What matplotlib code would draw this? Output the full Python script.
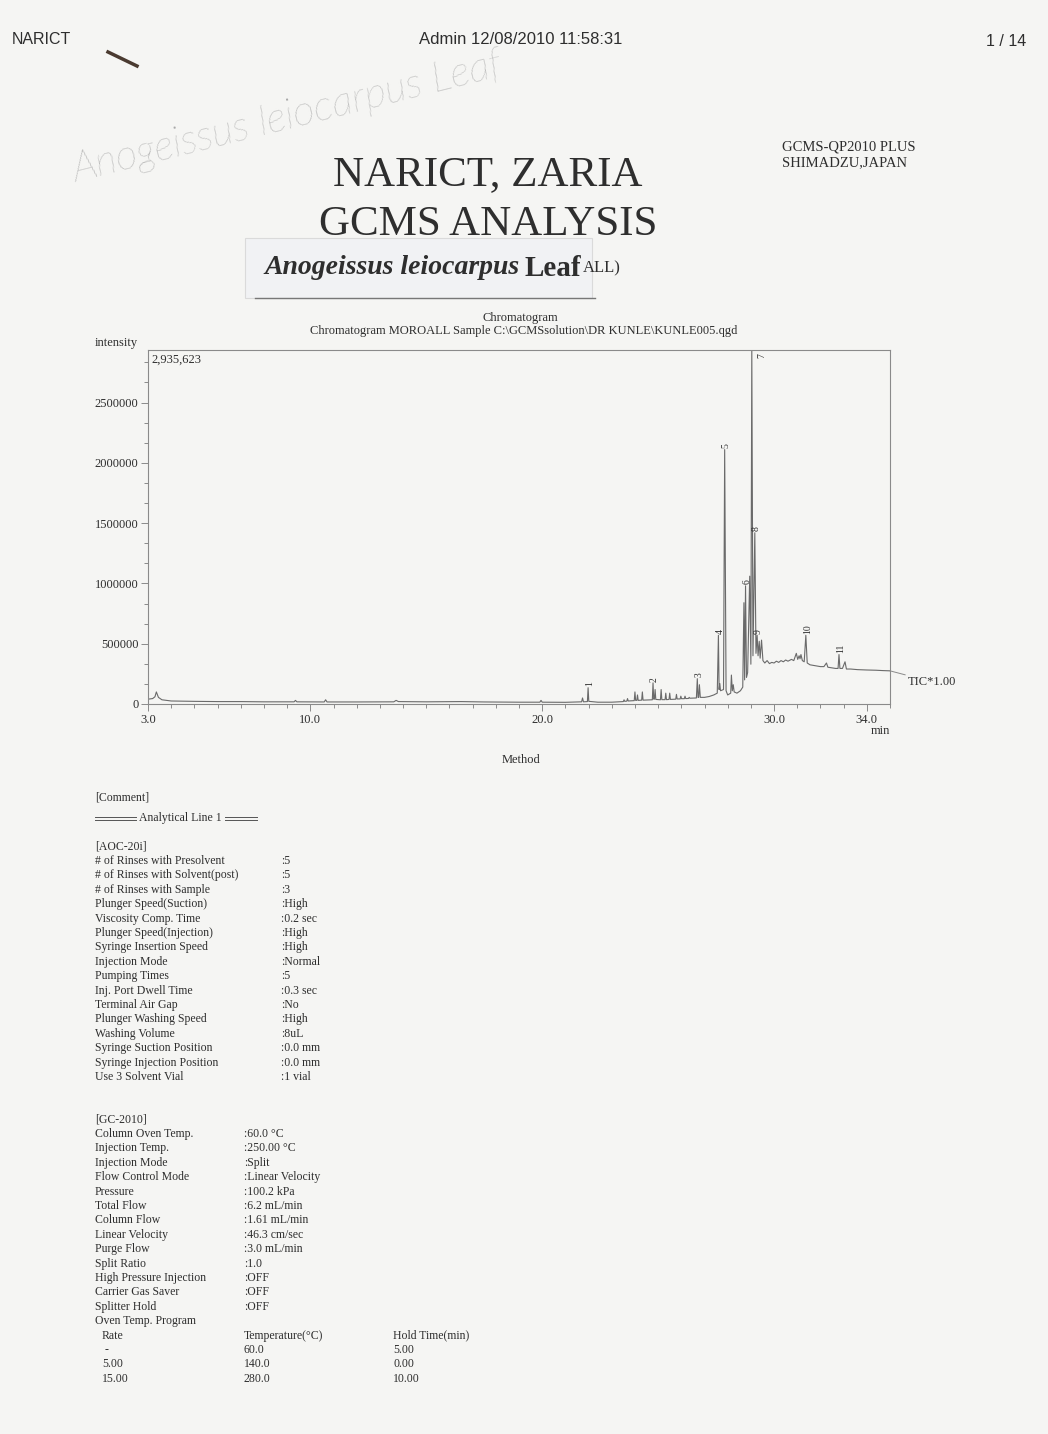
import matplotlib
matplotlib.use('Agg')
import matplotlib.pyplot as plt
from matplotlib.ticker import MultipleLocator, AutoMinorLocator, FuncFormatter
from matplotlib.patches import Rectangle
from matplotlib.lines import Line2D

W, H = 1048, 1434
INK = '#2e2e2e'
TRACE = '#6a6a6a'
PAPER = '#f5f5f3'

plt.rcParams['font.family'] = ['Liberation Serif', 'DejaVu Serif']

# TIC trace (retention time in min, intensity)
tic_time = [3.00, 3.20, 3.30, 3.36, 3.45, 3.60, 4.00, 5.00, 6.00, 7.00, 8.00,
            9.30, 9.36, 9.42, 10.60, 10.66, 10.72, 12.00, 13.60, 13.70, 13.80,
            15.00, 16.50, 17.50, 19.00, 19.90, 19.95, 20.00, 21.00,
            21.70, 21.74, 21.78, 21.95, 21.98, 22.01, 22.40, 23.00,
            23.50, 23.53, 23.56, 23.65, 23.68, 23.71, 23.97, 24.00, 24.03,
            24.08, 24.11, 24.14, 24.29, 24.32, 24.35, 24.75, 24.78, 24.81,
            24.84, 24.87, 24.90, 25.10, 25.13, 25.16, 25.30, 25.33, 25.36,
            25.47, 25.50, 25.53, 25.76, 25.79, 25.82, 25.95, 25.98, 26.01,
            26.13, 26.16, 26.19, 26.31, 26.34, 26.37, 26.65, 26.69, 26.72,
            26.75, 26.78, 26.82, 27.00, 27.20, 27.40, 27.55, 27.60, 27.63,
            27.66, 27.69, 27.82, 27.87, 27.93, 28.00, 28.13, 28.16, 28.20,
            28.24, 28.28, 28.40, 28.55, 28.65, 28.70, 28.73, 28.77, 28.81,
            28.86, 28.95, 29.00, 29.04, 29.09, 29.17, 29.22, 29.27, 29.31,
            29.36, 29.40, 29.46, 29.52, 29.60, 29.70, 29.80, 29.90, 30.00,
            30.10, 30.20, 30.30, 30.40, 30.50, 30.60, 30.75, 30.85, 30.96,
            31.02, 31.08, 31.12, 31.16, 31.22, 31.30, 31.37, 31.43, 31.55,
            31.70, 31.85, 32.00, 32.15, 32.26, 32.32, 32.50, 32.65, 32.76,
            32.80, 32.84, 32.95, 33.06, 33.12, 33.30, 33.60, 34.00, 34.40,
            34.70, 35.00]
tic_value = [40000, 45000, 60000, 100000, 55000, 35000, 25000, 22000, 20000,
             20000, 18000, 18000, 30000, 18000, 17000, 35000, 17000, 17000,
             18000, 30000, 20000, 18000, 20000, 17000, 15000, 15000, 30000,
             15000, 14000, 18000, 50000, 18000, 20000, 135000, 22000, 15000,
             15000, 20000, 35000, 22000, 24000, 45000, 25000, 28000, 100000,
             30000, 30000, 75000, 30000, 32000, 100000, 32000, 35000, 175000,
             40000, 40000, 120000, 38000, 35000, 120000, 36000, 36000, 90000,
             36000, 38000, 90000, 38000, 40000, 80000, 42000, 42000, 65000,
             44000, 44000, 65000, 45000, 46000, 55000, 48000, 50000, 210000,
             55000, 55000, 160000, 55000, 55000, 62000, 75000, 90000, 570000,
             120000, 170000, 110000, 120000, 2110000, 110000, 75000, 90000,
             240000, 110000, 160000, 100000, 90000, 110000, 140000, 840000,
             200000, 980000, 220000, 260000, 1060000, 330000, 2935623, 400000,
             1420000, 420000, 570000, 400000, 520000, 380000, 530000, 360000,
             340000, 360000, 335000, 345000, 340000, 355000, 345000, 360000,
             350000, 365000, 355000, 370000, 360000, 420000, 370000, 400000,
             375000, 410000, 360000, 350000, 570000, 340000, 325000, 320000,
             315000, 310000, 310000, 340000, 305000, 300000, 295000, 295000,
             410000, 295000, 295000, 350000, 290000, 290000, 285000, 282000,
             280000, 277000, 275000]

peak_no = ['1', '2', '3', '4', '5', '6', '7', '8', '9', '10', '11']
peak_time = [21.98, 24.78, 26.69, 27.60, 27.87, 28.77, 29.04, 29.17, 29.27, 31.37, 32.80]
peak_height = [135000, 175000, 210000, 570000, 2110000, 980000, 2935623,
               1420000, 570000, 570000, 410000]

y_max = 2935623
x_major = [3.0, 10.0, 20.0, 30.0, 34.0]

aoc_labels = ['# of Rinses with Presolvent', '# of Rinses with Solvent(post)',
              '# of Rinses with Sample', 'Plunger Speed(Suction)',
              'Viscosity Comp. Time', 'Plunger Speed(Injection)',
              'Syringe Insertion Speed', 'Injection Mode', 'Pumping Times',
              'Inj. Port Dwell Time', 'Terminal Air Gap',
              'Plunger Washing Speed', 'Washing Volume',
              'Syringe Suction Position', 'Syringe Injection Position',
              'Use 3 Solvent Vial']
aoc_values = [':5', ':5', ':3', ':High', ':0.2 sec', ':High', ':High',
              ':Normal', ':5', ':0.3 sec', ':No', ':High', ':8uL',
              ':0.0 mm', ':0.0 mm', ':1 vial']

gc_labels = ['Column Oven Temp.', 'Injection Temp.', 'Injection Mode',
             'Flow Control Mode', 'Pressure', 'Total Flow', 'Column Flow',
             'Linear Velocity', 'Purge Flow', 'Split Ratio',
             'High Pressure Injection', 'Carrier Gas Saver', 'Splitter Hold',
             'Oven Temp. Program']
gc_values = [':60.0 \u00b0C', ':250.00 \u00b0C', ':Split', ':Linear Velocity',
             ':100.2 kPa', ':6.2 mL/min', ':1.61 mL/min', ':46.3 cm/sec',
             ':3.0 mL/min', ':1.0', ':OFF', ':OFF', ':OFF', '']

oven_rate = ['Rate', ' -', '5.00', '15.00']
oven_temp = ['Temperature(\u00b0C)', '60.0', '140.0', '280.0']
oven_hold = ['Hold Time(min)', '5.00', '0.00', '10.00']


def px(x, y):
    return x / W, 1 - y / H


fig = plt.figure(figsize=(W / 100, H / 100), dpi=100, facecolor=PAPER)
renderer = fig.canvas.get_renderer()

# page header
fig.text(*px(12, 40), 'NARICT', family='Liberation Sans', fontsize=11.5,
         color=INK, va='center')
fig.text(*px(521, 40), 'Admin 12/08/2010 11:58:31', family='Liberation Sans',
         fontsize=12, color=INK, ha='center', va='center')
fig.text(*px(1026, 42), '1 / 14', family='Liberation Sans', fontsize=11.5,
         color=INK, ha='right', va='center')
fig.add_artist(Line2D([108 / W, 137 / W], [1 - 52 / H, 1 - 66 / H],
                      color='#4a3a30', lw=2.5))

# pencil note
fig.text(*px(288, 118), 'Anogeissus leiocarpus Leaf', family='Lato',
         fontstyle='italic', fontweight='light', fontsize=30, color='#a8a8a8',
         rotation=14, ha='center', va='center')

# titles
fig.text(*px(488, 175), 'NARICT, ZARIA', fontsize=31, color=INK,
         ha='center', va='center')
fig.text(*px(488, 225), 'GCMS ANALYSIS', fontsize=31, color=INK,
         ha='center', va='center')
fig.text(*px(782, 147), 'GCMS-QP2010 PLUS', fontsize=10.5, color=INK, va='center')
fig.text(*px(782, 163), 'SHIMADZU,JAPAN', fontsize=10.5, color=INK, va='center')

# pasted sample label
fig.add_artist(Rectangle((245 / W, 1 - 298 / H), 347 / W, 60 / H,
                         facecolor='#f1f2f4', edgecolor='#dadada', lw=0.8,
                         zorder=3))
fig.add_artist(Line2D([255 / W, 595 / W], [1 - 298 / H, 1 - 298 / H],
                      color='#777777', lw=1.0, zorder=4))
genus = fig.text(*px(264, 268), 'Anogeissus leiocarpus', fontsize=20,
                 color=INK, fontweight='bold', fontstyle='italic',
                 va='center', zorder=5)
gx = genus.get_window_extent(renderer).x1
leaf = fig.text(gx / W + 5 / W, 1 - 268 / H, 'Leaf', fontsize=21, color=INK,
                fontweight='bold', va='center', zorder=5)
lx = leaf.get_window_extent(renderer).x1
fig.text(lx / W + 2 / W, 1 - 268 / H, 'ALL)', fontsize=12, color=INK,
         va='center')

# chromatogram
fig.text(*px(520, 318), 'Chromatogram', fontsize=9, color=INK,
         ha='center', va='center')
fig.text(*px(524, 331),
         'Chromatogram MOROALL Sample C:\\GCMSsolution\\DR KUNLE\\KUNLE005.qgd',
         fontsize=9, color=INK, ha='center', va='center')
fig.text(*px(95, 343), 'intensity', fontsize=9, color=INK, va='center')

ax = fig.add_axes([148 / W, 1 - 704 / H, 742 / W, 354 / H])
ax.set_facecolor('none')
ax.plot(tic_time, tic_value, color=TRACE, lw=0.8)
ax.set_xlim(3.0, 35.0)
ax.set_ylim(0, y_max)
for s in ax.spines.values():
    s.set_color('#8a8a8a')
    s.set_linewidth(0.8)

ax.set_xticks(x_major)
ax.set_xticklabels(['%.1f' % v for v in x_major])
ax.xaxis.set_minor_locator(MultipleLocator(1.0))
ax.yaxis.set_major_locator(MultipleLocator(500000))
ax.yaxis.set_minor_locator(AutoMinorLocator(3))
ax.yaxis.set_major_formatter(FuncFormatter(lambda v, p: '%d' % v))
ax.tick_params(which='both', colors='#8a8a8a', labelcolor=INK, labelsize=9,
               width=0.7)
ax.tick_params(which='major', length=5, pad=2)
ax.tick_params(which='minor', length=3)

for n, t, h in zip(peak_no, peak_time, peak_height):
    if h >= y_max:
        ax.annotate(n, (t, h), xytext=(7, -2), textcoords='offset points',
                    fontsize=7, color=INK, rotation=90, ha='center', va='top')
    else:
        ax.annotate(n, (t, h), xytext=(1, 1), textcoords='offset points',
                    fontsize=7, color=INK, rotation=90, ha='center', va='bottom')

ax.annotate('TIC*1.00', (tic_time[-1], tic_value[-1]), xytext=(13, -8),
            textcoords='offset points', fontsize=9, color=INK, va='center',
            arrowprops=dict(arrowstyle='-', color='#8a8a8a', lw=0.7,
                            shrinkA=0, shrinkB=0), annotation_clip=False)

fig.text(*px(151, 360), '2,935,623', fontsize=9, color=INK, va='center')
fig.text(*px(880, 731), 'min', fontsize=9, color=INK, ha='center', va='center')
fig.text(*px(521, 760), 'Method', fontsize=9, color=INK, ha='center', va='center')

# method listing
fs = 8.5
step = 14.4
fig.text(*px(95, 798), '[Comment]', fontsize=fs, color=INK, va='center')
fig.text(*px(139, 818), 'Analytical Line 1', fontsize=fs, color=INK, va='center')
for x0, x1 in [(95, 136), (225, 257)]:
    for dy in (816.5, 819.5):
        fig.add_artist(Line2D([x0 / W, x1 / W], [1 - dy / H, 1 - dy / H],
                              color='#555555', lw=0.7))

fig.text(*px(95, 847), '[AOC-20i]', fontsize=fs, color=INK, va='center')
for i, (lab, val) in enumerate(zip(aoc_labels, aoc_values)):
    y = 861 + i * step
    fig.text(*px(95, y), lab, fontsize=fs, color=INK, va='center')
    fig.text(*px(281, y), val, fontsize=fs, color=INK, va='center')

fig.text(*px(95, 1120), '[GC-2010]', fontsize=fs, color=INK, va='center')
for i, (lab, val) in enumerate(zip(gc_labels, gc_values)):
    y = 1134 + i * step
    fig.text(*px(95, y), lab, fontsize=fs, color=INK, va='center')
    fig.text(*px(244, y), val, fontsize=fs, color=INK, va='center')

y0 = 1134 + len(gc_labels) * step
for i in range(len(oven_rate)):
    y = y0 + i * step
    fig.text(*px(102, y), oven_rate[i], fontsize=fs, color=INK, va='center')
    fig.text(*px(244, y), oven_temp[i], fontsize=fs, color=INK, va='center')
    fig.text(*px(393, y), oven_hold[i], fontsize=fs, color=INK, va='center')

fig.savefig('out.png', dpi=100, facecolor=fig.get_facecolor())
